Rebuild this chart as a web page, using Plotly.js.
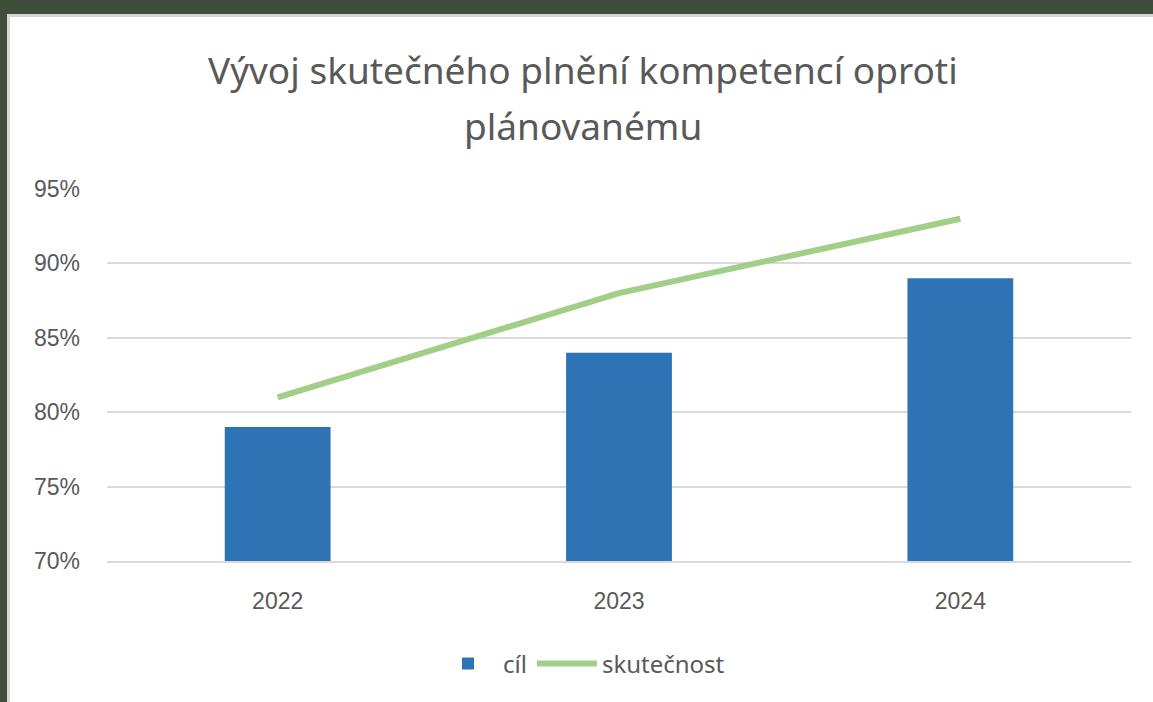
<!DOCTYPE html>
<html>
<head>
<meta charset="utf-8">
<script src="https://cdn.plot.ly/plotly-3.0.1.min.js"></script>
<style>
  html, body { margin: 0; padding: 0; background: #3f4e3a; width: 1153px; height: 702px; overflow: hidden; }
  #frame { position: absolute; left: 7px; top: 14px; width: 1146px; height: 688px; background: #d6d6d6; }
  #chart { position: absolute; left: 10px; top: 17px; width: 1143px; height: 685px; background: #ffffff; }
</style>
</head>
<body>
<div id="frame"></div>
<div id="chart"></div>
<script>
const categories = ["2022", "2023", "2024"];
const targetValues = [0.79, 0.84, 0.89];   // cíl
const actualValues = [0.81, 0.88, 0.93];   // skutečnost
const yTickValues = [0.70, 0.75, 0.80, 0.85, 0.90, 0.95];
const yTickLabels = ["70%", "75%", "80%", "85%", "90%", "95%"];
const seriesNames = ["cíl", "skutečnost"];
const titleLines = ["Vývoj skutečného plnění kompetencí oproti", "plánovanému"];

const textColor = "#595959";
const titleFont = { family: "Noto Sans, Open Sans, sans-serif", size: 37, color: textColor };

const traces = [
  {
    type: "bar",
    name: seriesNames[0],
    x: categories,
    y: targetValues,
    marker: { color: "#2e74b5" },
    hoverinfo: "x+y"
  },
  {
    type: "scatter",
    mode: "lines",
    name: seriesNames[1],
    x: categories,
    y: actualValues,
    line: { color: "#a2cf88", width: 6 },
    hoverinfo: "x+y"
  }
];

const layout = {
  width: 1143,
  height: 685,
  paper_bgcolor: "#ffffff",
  plot_bgcolor: "#ffffff",
  margin: { l: 97, r: 22, t: 172, b: 141 },
  bargap: 0.69,
  annotations: [
    { text: titleLines[0], xref: "paper", yref: "paper", x: 0.465, y: 1.32, xanchor: "center", yanchor: "middle", showarrow: false, font: titleFont },
    { text: titleLines[1], xref: "paper", yref: "paper", x: 0.465, y: 1.172, xanchor: "center", yanchor: "middle", showarrow: false, font: titleFont }
  ],
  xaxis: {
    type: "category",
    showgrid: false,
    showline: true,
    linecolor: "#d9d9d9",
    linewidth: 2,
    ticks: "",
    ticklabelstandoff: 18,
    tickfont: { family: "Liberation Sans, Arial, sans-serif", size: 23, color: textColor },
    fixedrange: true
  },
  yaxis: {
    range: [0.70, 0.95],
    tickvals: yTickValues,
    ticktext: yTickLabels,
    showgrid: true,
    gridcolor: "#d9d9d9",
    gridwidth: 2,
    zeroline: false,
    showline: false,
    ticks: "",
    ticklabelstandoff: 26,
    tickfont: { family: "Liberation Sans, Arial, sans-serif", size: 23, color: textColor },
    fixedrange: true
  },
  showlegend: true,
  legend: {
    orientation: "h",
    x: 0.5,
    xanchor: "center",
    xref: "container",
    y: 1 - 647 / 685,
    yref: "container",
    yanchor: "middle",
    font: { family: "Noto Sans, Open Sans, sans-serif", size: 24, color: textColor },
    itemwidth: 60,
    bgcolor: "rgba(0,0,0,0)"
  }
};

Plotly.newPlot("chart", traces, layout, { displayModeBar: false });
</script>
</body>
</html>
